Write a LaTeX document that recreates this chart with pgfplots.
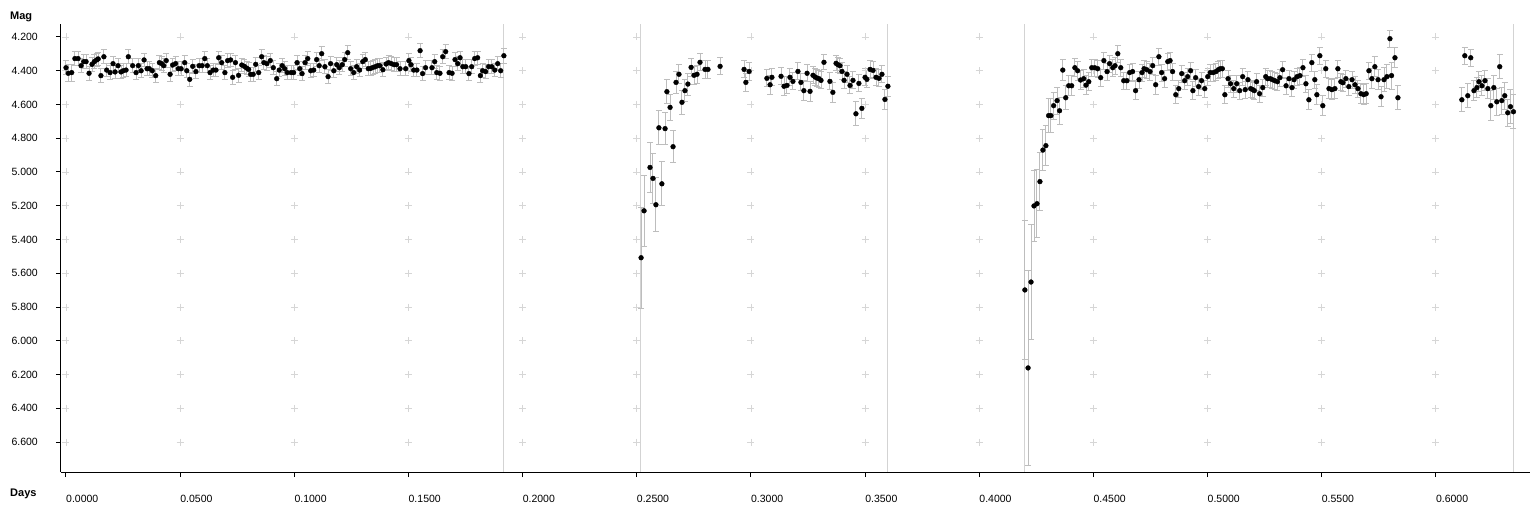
\documentclass[border=0pt]{standalone}
\usepackage{fontspec}
\setmainfont{Liberation Sans}
\usepackage{pgfplots}
\pgfplotsset{compat=1.18}
\usepackage{pgfplotstable}

\pgfplotstableread{
x y e
0.0000 4.382 0.04
0.0010 4.415 0.05
0.0025 4.411 0.05
0.0039 4.328 0.04
0.0053 4.328 0.04
0.0066 4.370 0.04
0.0078 4.346 0.04
0.0088 4.346 0.04
0.0101 4.415 0.04
0.0114 4.362 0.04
0.0124 4.346 0.04
0.0134 4.336 0.04
0.0141 4.330 0.04
0.0153 4.429 0.04
0.0166 4.317 0.04
0.0178 4.396 0.04
0.0193 4.411 0.04
0.0206 4.358 0.04
0.0215 4.407 0.04
0.0228 4.370 0.04
0.0241 4.407 0.04
0.0251 4.400 0.04
0.0263 4.396 0.04
0.0273 4.317 0.04
0.0292 4.370 0.04
0.0307 4.411 0.04
0.0317 4.370 0.04
0.0329 4.400 0.04
0.0342 4.336 0.04
0.0355 4.388 0.04
0.0365 4.388 0.04
0.0378 4.400 0.04
0.0393 4.429 0.04
0.0409 4.352 0.04
0.0419 4.358 0.04
0.0428 4.370 0.04
0.0439 4.340 0.04
0.0456 4.421 0.04
0.0467 4.366 0.04
0.0480 4.358 0.04
0.0492 4.388 0.04
0.0504 4.388 0.04
0.0520 4.352 0.04
0.0529 4.400 0.04
0.0542 4.451 0.04
0.0555 4.374 0.04
0.0569 4.405 0.04
0.0583 4.370 0.04
0.0596 4.370 0.04
0.0608 4.328 0.04
0.0619 4.370 0.04
0.0631 4.411 0.04
0.0645 4.396 0.04
0.0657 4.396 0.04
0.0669 4.323 0.04
0.0682 4.352 0.04
0.0696 4.411 0.04
0.0708 4.340 0.04
0.0721 4.336 0.04
0.0730 4.439 0.04
0.0742 4.352 0.04
0.0756 4.427 0.04
0.0770 4.366 0.04
0.0781 4.374 0.04
0.0791 4.384 0.04
0.0800 4.392 0.04
0.0809 4.421 0.04
0.0820 4.421 0.04
0.0831 4.362 0.04
0.0844 4.411 0.04
0.0857 4.317 0.04
0.0867 4.352 0.04
0.0880 4.358 0.04
0.0895 4.340 0.04
0.0908 4.382 0.04
0.0923 4.447 0.04
0.0934 4.396 0.04
0.0947 4.370 0.04
0.0958 4.388 0.04
0.0969 4.411 0.04
0.0986 4.411 0.04
0.0997 4.411 0.04
0.1012 4.352 0.04
0.1024 4.388 0.04
0.1034 4.417 0.04
0.1047 4.352 0.04
0.1059 4.328 0.04
0.1072 4.400 0.04
0.1085 4.396 0.04
0.1098 4.334 0.04
0.1109 4.370 0.04
0.1120 4.299 0.04
0.1134 4.376 0.04
0.1148 4.435 0.04
0.1159 4.358 0.04
0.1173 4.400 0.04
0.1186 4.364 0.04
0.1197 4.382 0.04
0.1210 4.364 0.04
0.1221 4.334 0.04
0.1234 4.293 0.04
0.1247 4.388 0.04
0.1260 4.411 0.04
0.1273 4.376 0.04
0.1286 4.396 0.04
0.1300 4.346 0.04
0.1311 4.334 0.04
0.1324 4.388 0.04
0.1335 4.386 0.04
0.1345 4.380 0.04
0.1355 4.376 0.04
0.1365 4.370 0.04
0.1375 4.370 0.04
0.1388 4.394 0.04
0.1402 4.360 0.04
0.1413 4.352 0.04
0.1425 4.358 0.04
0.1437 4.364 0.04
0.1448 4.364 0.04
0.1463 4.388 0.04
0.1488 4.388 0.04
0.1502 4.340 0.04
0.1511 4.364 0.04
0.1523 4.396 0.04
0.1537 4.396 0.04
0.1551 4.281 0.04
0.1562 4.417 0.04
0.1575 4.382 0.04
0.1603 4.382 0.04
0.1615 4.346 0.04
0.1624 4.411 0.04
0.1638 4.415 0.04
0.1650 4.317 0.04
0.1663 4.287 0.04
0.1678 4.411 0.04
0.1691 4.415 0.04
0.1704 4.334 0.04
0.1716 4.358 0.04
0.1726 4.323 0.04
0.1738 4.376 0.04
0.1751 4.376 0.04
0.1765 4.417 0.04
0.1777 4.376 0.04
0.1790 4.328 0.04
0.1803 4.323 0.04
0.1815 4.429 0.04
0.1825 4.400 0.04
0.1838 4.405 0.04
0.1851 4.376 0.04
0.1865 4.376 0.04
0.1878 4.396 0.04
0.1891 4.358 0.04
0.1904 4.400 0.04
0.1918 4.311 0.045
}\segA

\pgfplotstableread{
x y e
0.2519 5.508 0.30
0.2532 5.230 0.21
0.2558 4.973 0.15
0.2571 5.038 0.15
0.2584 5.194 0.16
0.2597 4.738 0.10
0.2610 5.070 0.13
0.2624 4.743 0.095
0.2632 4.524 0.07
0.2646 4.617 0.076
0.2659 4.850 0.095
0.2672 4.469 0.065
0.2685 4.421 0.057
0.2698 4.587 0.07
0.2711 4.518 0.065
0.2724 4.479 0.065
0.2738 4.380 0.053
0.2751 4.427 0.055
0.2764 4.421 0.055
0.2777 4.350 0.05
0.2799 4.392 0.055
0.2812 4.392 0.055
0.2865 4.374 0.05
0.2970 4.392 0.05
0.2978 4.469 0.055
0.2992 4.404 0.055
0.3070 4.445 0.05
0.3084 4.483 0.055
0.3092 4.439 0.05
0.3132 4.433 0.05
0.3145 4.492 0.055
0.3158 4.487 0.05
0.3171 4.439 0.05
0.3184 4.463 0.05
0.3206 4.404 0.05
0.3219 4.469 0.05
0.3232 4.518 0.06
0.3246 4.415 0.05
0.3259 4.522 0.06
0.3272 4.427 0.05
0.3281 4.437 0.05
0.3289 4.443 0.05
0.3298 4.447 0.05
0.3307 4.457 0.05
0.3320 4.350 0.045
0.3346 4.463 0.05
0.3359 4.528 0.06
0.3373 4.356 0.045
0.3381 4.364 0.045
0.3390 4.370 0.045
0.3399 4.404 0.05
0.3408 4.457 0.05
0.3421 4.421 0.05
0.3434 4.487 0.05
0.3447 4.457 0.05
0.3460 4.655 0.07
0.3473 4.475 0.05
0.3486 4.623 0.06
0.3500 4.439 0.05
0.3508 4.451 0.05
0.3522 4.392 0.05
0.3535 4.398 0.05
0.3548 4.439 0.05
0.3561 4.445 0.05
0.3574 4.421 0.05
0.3587 4.570 0.06
0.3600 4.492 0.06
}\segB

\pgfplotstableread{
x y e
0.4200 5.699 0.41
0.4214 6.161 0.58
0.4227 5.652 0.34
0.4240 5.201 0.21
0.4253 5.188 0.20
0.4266 5.057 0.17
0.4279 4.870 0.12
0.4292 4.844 0.12
0.4304 4.666 0.10
0.4314 4.666 0.10
0.4326 4.607 0.08
0.4341 4.577 0.08
0.4352 4.637 0.08
0.4366 4.396 0.06
0.4379 4.560 0.07
0.4392 4.489 0.06
0.4405 4.489 0.06
0.4419 4.382 0.055
0.4431 4.400 0.055
0.4444 4.455 0.055
0.4458 4.447 0.055
0.4468 4.485 0.055
0.4480 4.465 0.055
0.4493 4.382 0.05
0.4506 4.382 0.05
0.4519 4.388 0.05
0.4532 4.441 0.05
0.4546 4.340 0.05
0.4560 4.405 0.05
0.4571 4.358 0.05
0.4585 4.382 0.05
0.4595 4.370 0.05
0.4607 4.299 0.05
0.4620 4.382 0.05
0.4633 4.459 0.05
0.4647 4.459 0.05
0.4659 4.411 0.05
0.4672 4.405 0.05
0.4685 4.518 0.055
0.4700 4.453 0.05
0.4713 4.411 0.05
0.4722 4.388 0.05
0.4734 4.394 0.05
0.4748 4.405 0.05
0.4760 4.370 0.05
0.4773 4.483 0.055
0.4787 4.317 0.05
0.4799 4.411 0.05
0.4812 4.447 0.05
0.4826 4.346 0.05
0.4836 4.340 0.05
0.4847 4.405 0.05
0.4861 4.542 0.055
0.4874 4.506 0.05
0.4887 4.417 0.05
0.4900 4.459 0.05
0.4913 4.435 0.05
0.4926 4.400 0.05
0.4936 4.518 0.055
0.4948 4.441 0.05
0.4961 4.494 0.05
0.4974 4.459 0.05
0.4988 4.506 0.05
0.5001 4.435 0.05
0.5012 4.411 0.05
0.5025 4.411 0.05
0.5037 4.405 0.05
0.5047 4.394 0.05
0.5056 4.388 0.05
0.5065 4.388 0.05
0.5076 4.542 0.055
0.5090 4.447 0.05
0.5101 4.477 0.05
0.5115 4.506 0.05
0.5128 4.477 0.05
0.5141 4.518 0.05
0.5154 4.435 0.05
0.5165 4.512 0.05
0.5177 4.453 0.05
0.5189 4.506 0.05
0.5198 4.512 0.05
0.5205 4.518 0.05
0.5215 4.465 0.05
0.5228 4.536 0.05
0.5242 4.500 0.05
0.5255 4.435 0.05
0.5263 4.447 0.05
0.5275 4.447 0.05
0.5284 4.453 0.05
0.5295 4.459 0.05
0.5306 4.465 0.05
0.5317 4.441 0.05
0.5329 4.394 0.05
0.5344 4.489 0.05
0.5357 4.447 0.05
0.5370 4.500 0.05
0.5379 4.453 0.05
0.5392 4.435 0.05
0.5405 4.429 0.05
0.5418 4.382 0.05
0.5431 4.477 0.05
0.5444 4.572 0.06
0.5457 4.352 0.05
0.5470 4.453 0.05
0.5479 4.542 0.06
0.5492 4.311 0.05
0.5505 4.607 0.06
0.5518 4.388 0.05
0.5532 4.506 0.06
0.5545 4.512 0.06
0.5558 4.506 0.06
0.5571 4.388 0.05
0.5584 4.465 0.05
0.5593 4.471 0.05
0.5606 4.447 0.05
0.5619 4.494 0.05
0.5633 4.453 0.05
0.5646 4.483 0.05
0.5659 4.506 0.05
0.5672 4.536 0.06
0.5684 4.542 0.06
0.5695 4.536 0.06
0.5707 4.400 0.05
0.5720 4.447 0.06
0.5733 4.376 0.06
0.5747 4.453 0.06
0.5760 4.554 0.06
0.5773 4.453 0.07
0.5786 4.435 0.07
0.5799 4.210 0.05
0.5806 4.429 0.08
0.5821 4.323 0.06
0.5834 4.560 0.07
}\segC

\pgfplotstableread{
x y e
0.6114 4.572 0.07
0.6127 4.311 0.05
0.6140 4.548 0.07
0.6153 4.323 0.05
0.6167 4.518 0.06
0.6180 4.500 0.06
0.6189 4.465 0.06
0.6202 4.489 0.06
0.6215 4.459 0.06
0.6228 4.506 0.06
0.6241 4.607 0.09
0.6254 4.500 0.07
0.6267 4.584 0.08
0.6280 4.376 0.07
0.6289 4.577 0.08
0.6302 4.548 0.08
0.6315 4.649 0.08
0.6327 4.613 0.10
0.6340 4.643 0.10
}\segD

\definecolor{errgray}{HTML}{BDBDBD}
\definecolor{gridgray}{HTML}{D6D6D6}
\definecolor{sepgray}{HTML}{D3D3D3}

\begin{document}
\begin{tikzpicture}
\useasboundingbox (-61pt,-40pt) rectangle (1475pt,472pt);
\begin{axis}[
  scale only axis,
  width=1469pt, height=448pt,
  at={(0,0)}, anchor=south west,
  xmin=-0.00219, xmax=0.64126,
  ymin=4.1230, ymax=6.7778,
  y dir=reverse,
  axis x line*=bottom, axis y line*=left,
  axis line style={black, line width=1pt, -},
  xtick={0,0.05,0.1,0.15,0.2,0.25,0.3,0.35,0.4,0.45,0.5,0.55,0.6},
  ytick={4.2,4.4,4.6,4.8,5.0,5.2,5.4,5.6,5.8,6.0,6.2,6.4,6.6},
  tick align=outside,
  major tick length=5pt,
  tick style={black, line width=1pt},
  x tick label style={/pgf/number format/fixed, /pgf/number format/fixed zerofill, /pgf/number format/precision=4, /pgf/number format/assume math mode=true, anchor=west, inner sep=0pt, yshift=-22pt, font=\fontsize{10.5}{12}\selectfont},
  y tick label style={/pgf/number format/fixed, /pgf/number format/fixed zerofill, /pgf/number format/precision=3, /pgf/number format/assume math mode=true, anchor=east, inner sep=0pt, xshift=-18pt, font=\fontsize{10.5}{12}\selectfont},
  clip=false,
]
% grid crosses
\pgfplotsinvokeforeach{4.2,4.4,4.6,4.8,5.0,5.2,5.4,5.6,5.8,6.0,6.2,6.4,6.6}{
  \addplot[only marks, mark=+, mark size=3.5pt, gridgray, line width=0.8pt] coordinates {
    (0,#1) (0.05,#1) (0.1,#1) (0.15,#1) (0.2,#1) (0.25,#1) (0.3,#1) (0.35,#1) (0.4,#1) (0.45,#1) (0.5,#1) (0.55,#1) (0.6,#1)};
}
% separators
\pgfplotsinvokeforeach{0.1918,0.2518,0.3600,0.4200,0.6342}{
  \addplot[sepgray, line width=1pt] coordinates {(#1,4.1230) (#1,6.7778)};
}
\pgfplotsset{errstyle/.style={only marks, mark=*, mark size=2.4pt, black,
  error bars/.cd, y dir=both, y explicit,
  error bar style={line width=1pt, errgray},
  error mark options={rotate=90, line width=1pt, errgray, mark size=3pt}}}
\addplot[errstyle] table[x=x, y=y, y error=e] {\segA};
\addplot[errstyle] table[x=x, y=y, y error=e] {\segB};
\addplot[errstyle] table[x=x, y=y, y error=e] {\segC};
\addplot[errstyle] table[x=x, y=y, y error=e] {\segD};
\end{axis}
\node[anchor=west, font=\bfseries\fontsize{11}{13}\selectfont, inner sep=0pt] at (-51pt,455pt) {Mag};
\node[anchor=west, font=\bfseries\fontsize{11}{13}\selectfont, inner sep=0pt] at (-51pt,-22pt) {Days};
\end{tikzpicture}
\end{document}
